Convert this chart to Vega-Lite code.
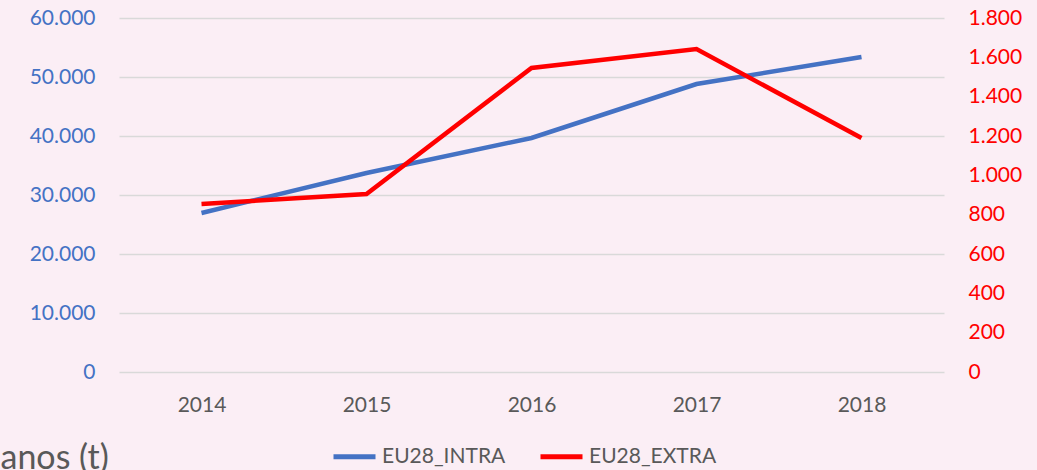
{
  "$schema": "https://vega.github.io/schema/vega-lite/v6.json",
  "autosize": {"type": "none"},
  "width": 825,
  "height": 354,
  "padding": {"left": 119, "top": 18, "right": 93, "bottom": 98},
  "background": "#FBEEF5",
  "config": {
    "locale": {"number": {"decimal": ",", "thousands": ".", "grouping": [3], "currency": ["", " €"]}},
    "view": {"stroke": null},
    "font": "Lato",
    "axis": {"labelFont": "Lato", "labelFontSize": 21, "domain": false, "ticks": false}
  },
  "data": {
    "values": [
      {"year": "2014", "series": "EU28_INTRA", "value": 26950},
      {"year": "2015", "series": "EU28_INTRA", "value": 33730},
      {"year": "2016", "series": "EU28_INTRA", "value": 39660},
      {"year": "2017", "series": "EU28_INTRA", "value": 48810},
      {"year": "2018", "series": "EU28_INTRA", "value": 53390},
      {"year": "2014", "series": "EU28_EXTRA", "value": 854},
      {"year": "2015", "series": "EU28_EXTRA", "value": 905},
      {"year": "2016", "series": "EU28_EXTRA", "value": 1546},
      {"year": "2017", "series": "EU28_EXTRA", "value": 1642},
      {"year": "2018", "series": "EU28_EXTRA", "value": 1190}
    ]
  },
  "encoding": {
    "x": {
      "field": "year",
      "type": "ordinal",
      "scale": {"type": "point", "padding": 0.5},
      "axis": {
        "labelAngle": 0,
        "labelColor": "#595959",
        "labelPadding": 22,
        "grid": false,
        "title": "anos (t)",
        "titleX": -119,
        "titleY": 96,
        "titleAlign": "left",
        "titleAnchor": "start",
        "titleBaseline": "alphabetic",
        "titleFont": "Lato",
        "titleFontSize": 34,
        "titleFontWeight": "normal",
        "titleColor": "#595959"
      }
    },
    "color": {
      "field": "series",
      "type": "nominal",
      "scale": {"domain": ["EU28_INTRA", "EU28_EXTRA"], "range": ["#4472C4", "#FF0000"]},
      "legend": {
        "title": null,
        "orient": "none",
        "direction": "horizontal",
        "legendX": 212,
        "legendY": 415,
        "symbolType": "stroke",
        "symbolStrokeWidth": 5,
        "symbolSize": 1764,
        "labelFontSize": 21,
        "labelColor": "#595959",
        "labelFont": "Lato",
        "columnPadding": 24,
        "labelOffset": 4
      }
    }
  },
  "layer": [
    {
      "transform": [{"filter": "datum.series === 'EU28_INTRA'"}],
      "mark": {"type": "line", "strokeWidth": 4.5},
      "encoding": {
        "y": {
          "field": "value",
          "type": "quantitative",
          "scale": {"domain": [0, 60000]},
          "axis": {
            "orient": "left",
            "title": null,
            "values": [0, 10000, 20000, 30000, 40000, 50000, 60000],
            "format": ",.0f",
            "labelColor": "#4472C4",
            "labelPadding": 24,
            "grid": true,
            "gridColor": "#D9D9D9",
            "gridWidth": 1.5
          }
        }
      }
    },
    {
      "transform": [{"filter": "datum.series === 'EU28_EXTRA'"}],
      "mark": {"type": "line", "strokeWidth": 4.5},
      "encoding": {
        "y": {
          "field": "value",
          "type": "quantitative",
          "scale": {"domain": [0, 1800]},
          "axis": {
            "orient": "right",
            "title": null,
            "values": [0, 200, 400, 600, 800, 1000, 1200, 1400, 1600, 1800],
            "format": ",.0f",
            "labelColor": "#FF0000",
            "labelPadding": 24,
            "grid": false
          }
        }
      }
    }
  ],
  "resolve": {"scale": {"y": "independent"}}
}
